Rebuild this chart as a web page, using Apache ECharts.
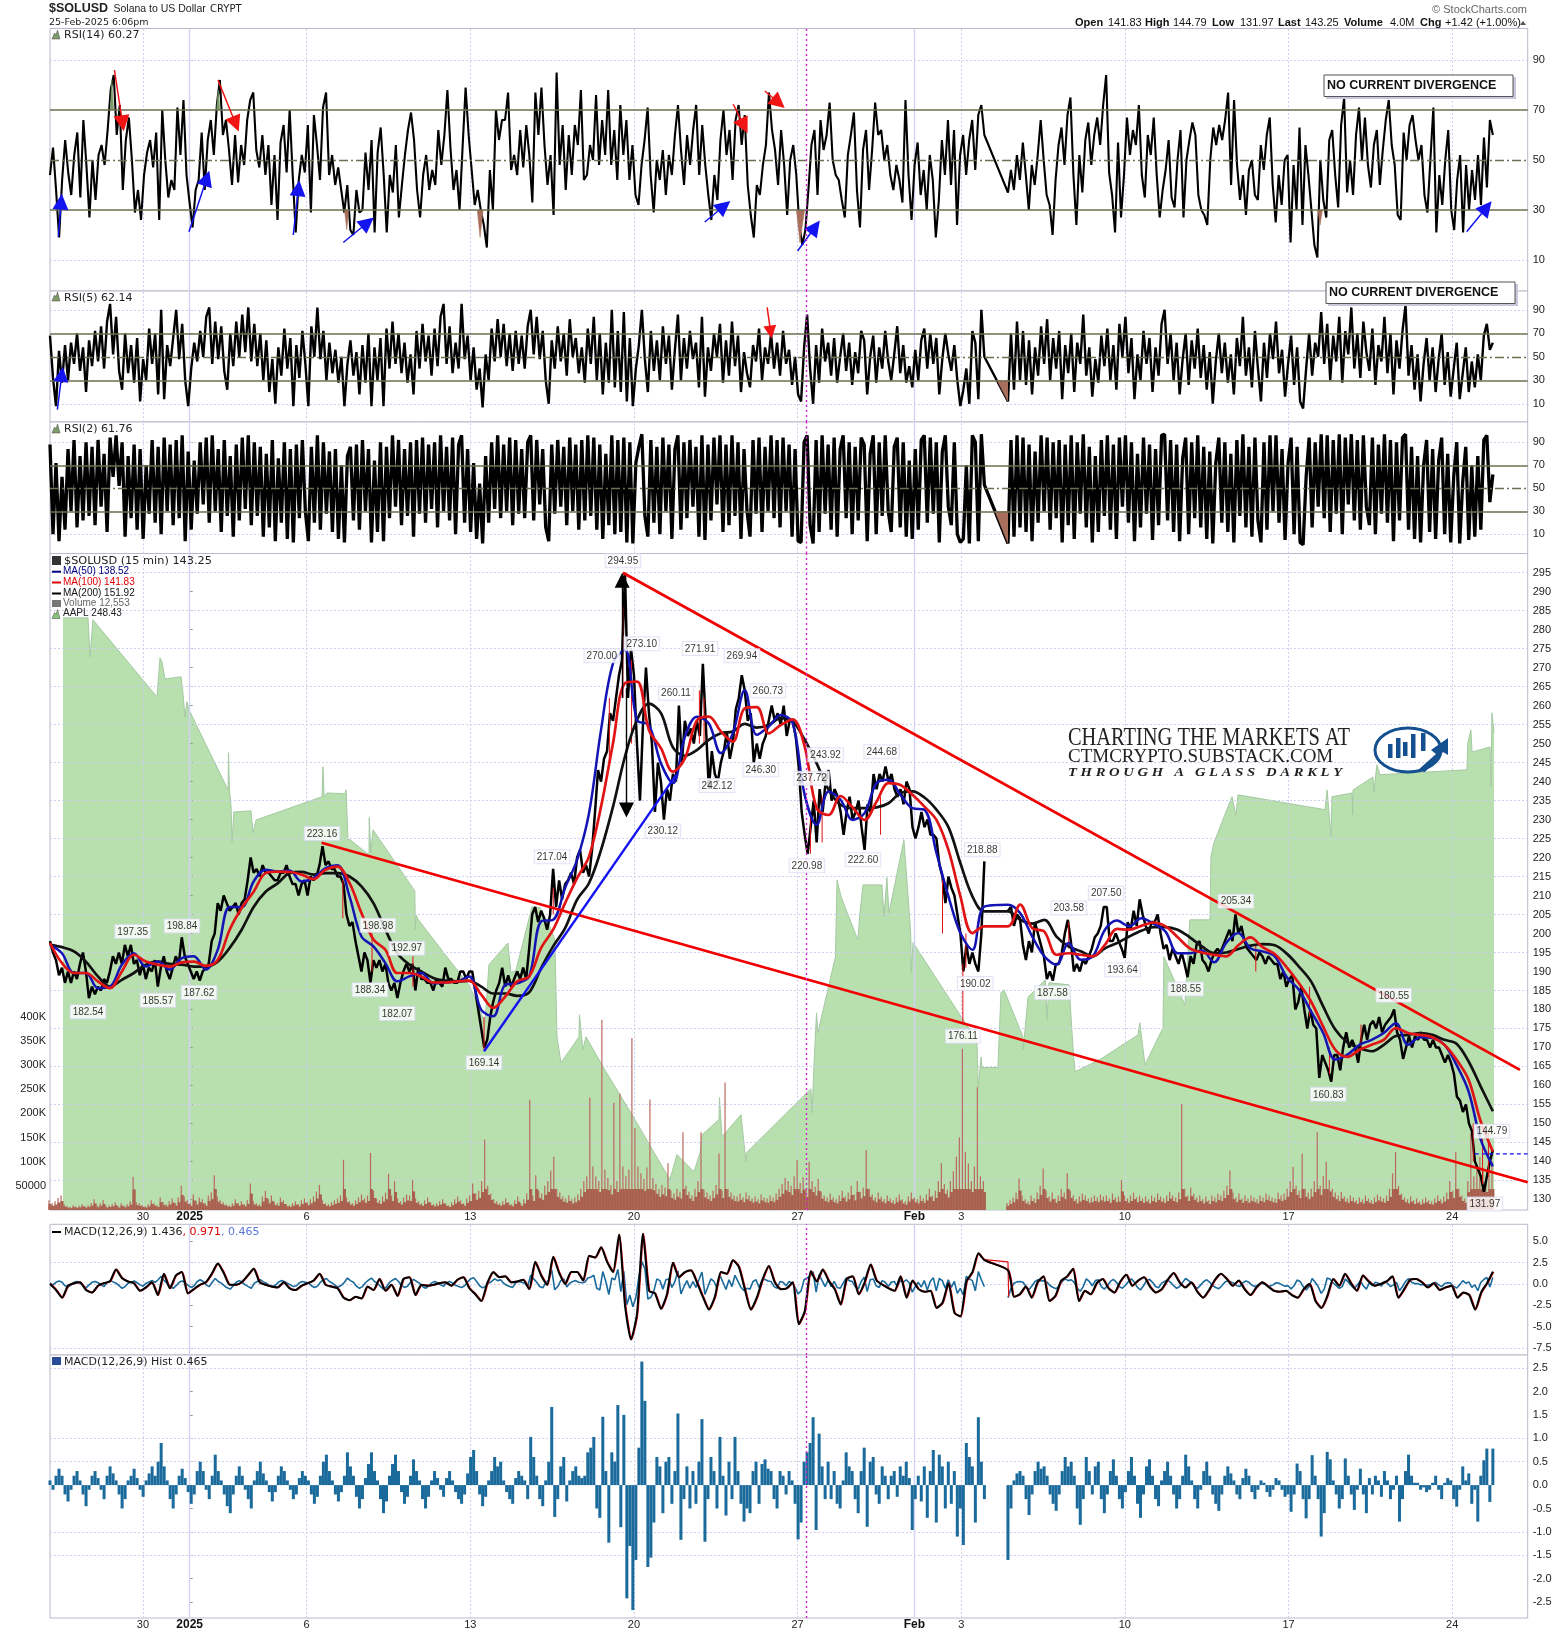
<!DOCTYPE html>
<html><head><meta charset="utf-8"><title>$SOLUSD</title>
<style>html,body{margin:0;padding:0;background:#fff}#c{width:1565px;height:1634px}</style>
<script src="https://cdn.jsdelivr.net/npm/echarts@6/dist/echarts.min.js"></script></head>
<body><div id="c"></div>
<script>
// ---- time axis: days since 1 Jan 2025
const dayTicks=[-2,0,5,12,19,26,31,33,40,47,54];
const dayLabels=['30','{b|2025}','6','13','20','27','{b|Feb}','3','10','17','24'];
const strongDays=[0,31];
const markerDay=26.36;
const rsiTicks=[10,30,50,70,90];
const priceTicks=[130,135,140,145,150,155,160,165,170,175,180,185,190,195,200,205,210,215,220,225,230,235,240,245,250,255,260,265,270,275,280,285,290,295];
const priceGrid=[135,145,155,165,175,185,195,205,215,225,235,245,255,265,275,285,295];
const volTicks=[50,100,150,200,250,300,350,400];
const macdTicks=[-7.5,-5,-2.5,0,2.5,5];
const histTicks=[-2.5,-2,-1.5,-1,-0.5,0,0.5,1,1.5,2,2.5];

// ---- RSI(14)
const rsi14A=[44,55,38,19,42,58,45,36,52,61,35,66,48,27,50,34,52,56,48,62,78,84,60,72,38,58,67,50,29,38,26,44,53,58,47,61,26,70,50,35,42,38,71,52,74,44,33,23,38,42,61,38,58,66,52,72,82,60,66,54,40,60,41,56,48,66,74,77,54,47,60,44,56,32,52,26,57,64,45,70,44,21,42,52,45,64,29,68,56,42,71,77,44,52,40,47,38,29,40,22,20,38,29,30,53,38,58,21,53,63,44,21,44,37,56,27,40,52,62,69,58,38,27,44,52,38,46,40,62,48,60,78,55,38,46,30,55,79,60,46,32,38,30,24,15,46,30,70,58,66,
66,77,46,52,44,62,47,64,52,33,77,60,79,56,40,52,28,85,48,64,38,60,44,64,56,78,42,44,56,50,76,48,66,52,78,48,62,42,72,52,66,42,56,36,32,48,58,71,44,29,50,42,54,36,52,44,60,72,54,40,60,48,62,72,44,64,48,36,26,44,34,58,70,52,62,42,66,72,56,68,40,28,19,40,36,48,56,77,62,54,40,62,48,28,50,56,44,24,16,22,38,56,62,36,66,54,60,73,50,44,42,34,27,52,60,69,38,23,54,62,38,54,73,60,62,50,56,44,38,48,42,33,74,44,26,48,57,36,46,30,52,42,19,34,58,44,66,40,62,24,52,60,44,58,66,46,68,72,60];
const rsi14B=[37,46,38,52,42,57,44,30,48,40,52,66,50,36,32,20,42,56,63,48,68,75,44,24,
52,37,58,65,48,60,67,56,72,84,45,36,21,57,27,44,67,52,62,56,72,44,35,60,52,67,44,27,38,46,58,35,31,50,62,27,50,58,65,60,36,30,28,24,50,63,56,64,58,66,77,40,74,48,34,44,28,46,50,36,34,56,46,60,67,40,25,44,32,50,52,17,48,30,63,24,56,44,30,16,11,50,34,27,58,62,44,31,64,75,37,50,36,60,71,50,67,48,39,56,62,40,54,66,74,56,48,28,26,61,50,64,68,58,50,56,36,29,50,71,21,44,32,50,62,30,22,42,52,21,48,30,46,34,52,32,59,39,66,60];
// ---- RSI(5)
const rsi5A=[68,32,8,55,28,60,30,62,44,70,38,58,20,64,42,72,46,76,40,80,95,52,84,38,22,70,36,60,28,66,12,48,30,74,44,70,18,90,14,60,42,66,90,48,78,30,8,40,62,46,72,50,84,92,44,80,48,76,38,22,70,42,80,50,86,54,92,46,78,42,70,30,64,20,48,10,58,34,74,40,66,8,60,32,72,44,8,76,50,92,48,72,30,62,36,56,28,50,8,44,64,34,54,18,60,28,70,8,58,30,66,8,74,40,80,44,70,36,62,28,52,18,72,40,78,46,68,34,74,42,84,95,44,76,36,62,40,95,48,68,30,58,22,40,7,52,30,74,46,82,50,78,42,70,38,72,44,68,40,76,90,52,84,48,72,30,10,64,40,76,46,70,34,82,50,66,36,58,28,74,44,84,30,70,18,62,28,90,24,72,20,88,12,66,8,40,60,90,48,20,72,38,64,30,76,44,68,22,56,86,30,66,40,72,48,62,24,84,16,58,38,70,50,78,28,64,34,80,42,68,20,54,36,24,60,46,74,30,58,44,70,40,62,34,72,44,56,26,50,18,12,58,86,40,10,60,28,74,46,62,34,66,28,50,70,38,62,26,54,36,72,64,18,50,68,28,58,40,72,46,30,52,76,36,60,28,42,24,56,30,64,74,40,70,44,66,18,48,70,52,38,60,30,8,22,40,10,72,62,14,90,50];
const rsi5B=[12,70,22,80,30,72,26,64,18,58,34,76,44,82,30,66,40,72,14,60,36,70,20,62,44,86,34,58,16,48,28,68,42,74,30,60,22,78,50,84,36,66,14,52,30,72,44,66,20,58,34,78,90,44,70,30,62,18,48,70,26,64,40,74,32,60,22,54,10,46,70,36,62,28,52,18,66,42,84,34,58,24,72,40,12,62,32,70,48,80,36,56,16,44,68,26,58,12,6,40,70,34,62,50,88,44,78,30,68,46,84,28,72,52,92,40,70,32,80,54,38,74,26,60,46,84,36,70,18,64,40,72,94,34,60,22,52,12,44,66,30,58,20,48,70,26,54,16,40,62,14,36,58,20,46,24,52,30,68,78,56,62];
// ---- RSI(2)
const rsi2A=[88,10,72,4,60,14,84,30,92,16,78,22,90,26,86,18,92,34,80,12,94,60,96,52,90,8,78,24,88,14,84,6,70,28,92,20,86,10,94,30,88,18,92,24,96,4,82,14,74,28,90,36,94,20,96,30,84,12,92,26,78,8,88,22,94,32,96,18,90,26,86,8,80,16,92,4,76,20,90,6,84,3,88,24,92,30,4,86,20,96,14,90,28,82,12,84,6,70,3,78,86,22,88,14,92,30,84,3,74,12,90,4,86,24,96,34,92,18,84,26,90,8,92,28,94,20,88,32,90,16,96,30,86,22,94,10,88,96,20,84,12,72,6,54,2,78,20,90,32,96,24,88,30,94,18,92,28,84,24,90,96,22,92,36,84,16,4,88,28,92,34,86,18,94,30,88,14,92,22,96,26,94,14,88,6,80,18,96,10,92,12,94,3,90,2,72,86,97,26,8,92,20,86,10,94,30,88,6,84,96,14,90,24,92,34,86,8,96,5,88,22,94,36,96,12,88,18,96,26,90,6,84,30,8,92,28,94,12,86,30,96,24,92,16,94,30,88,8,84,4,3,90,96,18,2,92,12,96,28,88,14,94,8,84,96,24,90,10,86,22,94,88,4,80,96,10,90,26,96,30,12,86,94,16,90,8,74,6,84,14,92,96,20,94,28,90,3,82,96,34,18,90,10,3,6,70,2,96,90,4,97,53];
const rsi2B=[2,92,8,96,16,94,12,88,4,82,20,96,30,94,14,90,24,92,3,88,18,96,6,90,28,97,16,86,3,78,12,92,26,96,14,88,6,94,34,96,20,90,4,80,16,94,28,88,5,84,18,96,97,22,92,12,88,4,76,94,10,90,24,96,16,86,6,82,2,72,94,20,90,12,80,3,92,26,97,16,86,8,94,22,3,90,14,96,30,96,20,84,5,72,94,10,86,3,1,60,94,16,90,34,97,24,96,12,92,28,97,10,94,36,97,22,92,14,96,34,18,94,10,88,28,97,20,92,4,90,22,94,97,14,86,6,78,3,70,92,12,84,6,74,94,10,80,3,60,90,2,56,86,5,70,8,78,14,92,96,38,62];
// ---- shaded RSI extremes: [day, rsi] pairs
const rsi14Low=[[[6.62,30],[6.72,22],[6.8,30]],[[12.3,30],[12.42,19],[12.55,30]],[[25.95,30],[26.1,17],[26.3,30]],[[48.25,30],[48.35,24],[48.45,30]]];
const rsi14High=[[[-3.4,70],[-3.33,82],[-3.25,70]],[[1.15,70],[1.22,78],[1.3,70]]];
const rsi5Gap=[[34.53,30],[35,12]];
const rsi2Gap=[[34.45,30],[35,2]];

// ---- price path (high/low trace)
const priceA=[198,195,193,189,191,187,190,187,190,188,192,195,190,183,186,184,186,185,188,187,190,194,192,195,192,197,194,197,192,193,189,192,188,191,190,193,186,191,194,190,188,191,194,192,199,194,192,190,188,190,187.6,190,191,192,198,200,208,206,210,208,206,207,208,205,208,209,214,220,216,217,215,218,216,216,215,214,214,216,216,218,215,213,213,210,213,214,210,215,214,215,218,223,218,219,217,217,215,215,213,205,202,203,198,194,190,195,193,187,193,191,193,190,192,187,185,187,183,187,190,192,190,192,185,191,188,188,187,187,185,188,187,186,191,188,188,187,187,190,190,188,190,190,185,180,175,170,172,178,182,185,187,191,186,189,186,188,190,188,191,188,196,205,207,203,206,204,201,205,217,207,214,209,213,
214,216,213,220,222,216,218,215,222,232,243,240,246,248,258,256,262,268,272,295,262,275,268,250,235,255,270,258,250,232,245,240,230,238,235,242,240,260,245,256,252,254,250,256,252,271,255,238,248,242,240,245,248,253,246,250,259,262,268,264,256,258,245,250,246,250,252,256,260,256,258,255,260,252,256,256,252,244,232,226,221,228,235,224,238,232,240,243,235,238,236,232,226,232,236,230,232,235,228,222,234,232,242,238,242,240,244,240,242,238,236,238,234,240,238,228,225,228,
232,228,230,226,226,225,218,215,208,215,212,210,205,200,190,197,192,195,192,190,200,219];
const priceB=[206,207,202,205,204,197,193,198,195,203,200,197,194,188,190,187.6,192,192,195,200,203.6,198,190,192,190,193,192,194,196,199,
200,202,207,207,198,198,200,198,196,193.6,203,201,206,202,209,205,202,200,203,203,205,200,196,197,193,196,194,192,195,192,188.5,194,192,197,198,193,192,190,193,195,196,195,197,199,201,198,205,200,202,198,196,195,194,193,195,194,192,194,193,192,192,188,190,186,188,189,180,182,186,180,175,180,176,175,162,168,166,164,161,168,168,164,170,174,170,172,170,166,172,176,172,176,177,175,178,174,176,177,178,180,174,172,167,170,173,170,173,172,174,172,172,170,172,170,170,168,166,168,166,163,157,156,153,155,150,148,140,138,136,132,136,140,143];
// red candle wicks: day, high, low
const redWicks=[[12.59,178,169.14],[33.07,192,176.11],[33.2,200,191],[18.53,286,262],[18.9,272,250],[17.95,262,244],[27.05,236,224],[26.55,232,221],[22.0,262,250],[29.55,236,226],[9.55,194,186],[7.8,200,190],[6.55,214,204],[15.55,212,205],[21.8,264,250],[32.2,214,200],[50.1,176,170],[48.75,170,163],[55.3,146,134],[47.9,186,178],[37.6,203,196],[45.6,197,190],[54.9,150,140],[55.55,148,136]];

// ---- moving averages, 79 points before the Feb 3 gap, 41 after
const ma50A=[197,194.8,189.6,189.6,185.6,186,191.8,194.8,191.3,192.6,190.5,193.5,194,190.5,195.7,207,207,213.7,216.8,216.3,216.6,213.7,214.6,217.2,218,209.8,199.2,196.6,192.2,187.4,188.7,189.6,186.9,187.1,187.4,188.7,179.9,178.2,186.5,186.9,188.7,203.2,203.6,212,219.4,231.7,253.6,271.1,274.7,256.2,254.9,244.8,239.6,251.8,257.1,255.3,247.5,252.7,264.1,252.3,254.5,257.5,255.4,236.5,228.6,237.4,235.2,229.9,231.7,239.6,240.5,236.5,233,232.6,221.2,209.8,200.1,195.7,207.1];
const ma50B=[207.6,205.4,199.2,194,191.8,197.5,193.1,194,201,203.4,201.9,204,202.6,200.5,194.8,194.8,195.5,192.4,197.5,200.1,196.1,195.3,194,188.5,185.2,179.5,173.8,166.8,168.1,170.7,172,173.8,176.4,170.7,172.7,172.5,170.7,165.4,158.4,145.7,138.7];
const ma100A=[197.5,192.2,189.6,189.6,187.4,185.6,190,194.4,192.6,191.8,191.3,192.4,192.6,191.5,193,201,206.7,211,215.9,216.3,216.2,215.5,214.3,216.8,217.6,213.3,205.4,198.4,195.7,189.6,189.6,188.7,187.1,187.1,187.4,187.6,183.9,180.4,183.4,187.4,188.7,196.2,201,208,214.6,220.3,233.4,250.1,265.9,266.3,253.6,248.8,242.6,246.1,256.1,257.1,253.2,250.5,259.3,259.6,252.7,254.9,256.4,249.2,233,231.2,236.2,233.2,229.9,234.7,239.6,239.1,236.5,233.4,229.9,222,209.8,200.1,201.9];
const ma100B=[201.9,207.6,201.4,200.5,194.4,194.8,194.4,194,197,201.2,201,202,202.9,201.9,199,196.1,195,194.4,194,196.9,199,196.4,194.6,191.1,186.9,182.1,175.5,169.4,167.5,169.4,170.7,172,175.1,173.8,173.3,172.7,170.7,166.8,161.5,150.5,142.6];
const ma200A=[197,196.4,195.3,192.6,188.7,186,187.8,189.6,191.8,192.6,192,191.8,191.3,191.3,192.6,196.2,201,207,211,213.2,215.9,216.2,215.5,215.9,215.9,215,212.4,208,201,194.8,191.8,190,188.3,187.6,187.4,187.5,186,184.2,184.2,183.6,184.5,190.9,196.6,201.4,208.9,213.3,222,233.4,246.6,256.2,260.5,258,249,246.8,248.3,251,252.7,253.2,255.2,254.2,254.9,256.7,255.8,251,244.8,237.8,233.9,233,233,233.2,234.3,237,237.4,235.8,232.6,228,218.5,209.8,205.8];
const ma200B=[205.8,203.6,202.6,203.6,199.2,196.6,195.3,194,196.1,197.5,199.2,200.7,201.7,201.7,201,199,196.6,194.8,195,195.9,196.8,197.2,196.9,194.7,191.3,187.4,180.8,174.7,171.3,169.8,169,170.7,173,173.3,173.8,173.3,172,171,166.3,159.7,153.2];

// ---- AAPL comparison area, read as [day, level on the price scale]
const aaplDays=[-5.42,-4.35,-4.26,-4.14,-1.4,-1.27,-1.18,-1.06,-0.37,-0.29,-0.2,-0.12,-0.03,1.64,1.66,1.7,1.77,1.81,1.89,2.62,2.71,2.84,5.66,5.7,5.75,5.87,6.64,6.69,6.77,6.86,7.67,7.68,7.75,7.84,9.63,9.65,9.68,9.77,11.99,12.63,12.8,13.61,13.74,13.95,14.64,14.98,15.41,15.62,15.71,15.88,16.27,16.65,16.67,16.82,16.95,17.68,18.92,20.54,20.84,21.57,21.83,21.91,22.64,22.66,22.77,23.58,23.79,23.82,26.57,26.62,26.7,26.81,26.87,27.62,27.69,27.86,28.58,28.67,28.8,29.61,29.7,29.82,29.91,30.55,30.83,30.85,30.86,30.94,33.08,33.67,33.73,33.85,33.89,34.57,34.7,34.83,35.64,35.65,35.86,36.6,36.67,36.75,37.61,37.78,37.87,38.93,40.56,40.64,40.86,41.63,41.67,42.57,42.78,43.64,43.68,43.81,44.58,44.75,44.84,48.56,48.65,48.82,48.86,49.72,49.74,49.76,50.61,50.65,50.78,50.91,54.63,54.67,54.8,54.85,55.62,55.66,55.7,55.79];
const aaplLevel=[283.1,283.1,272.8,282.6,262.3,272.6,271.5,267,267.6,263.3,257,261,258.9,237.8,247.6,237.8,233.3,224.1,232,232.3,226.5,229.9,236,243.9,236,237,236.8,237.8,224.7,224.7,220.7,230.5,221.2,227.3,211.2,201,204.9,203.7,186,176.5,191.8,197.5,189.7,190.2,207,206.8,201.8,198.3,172.8,166,169.4,172.8,178.6,169.4,172.8,164.9,152.3,135.2,141.8,137.3,142.3,147,151,156.8,146.5,152.3,140,142.3,159.1,152.8,164.9,179.1,173.9,193.9,214.1,209.7,198.3,205.5,212.8,212.8,204.4,214.7,205.5,224.7,201,197.8,189.7,197.6,177.3,172,159.7,167.5,164.7,164.7,184.4,185.2,172.8,169.4,183.3,187.8,177.3,187,186.5,170.2,163.6,166.8,173.3,176.5,165.4,175.2,193.9,181.2,203.6,203.6,220.2,223.9,236,231.2,236.5,232.6,237.8,225.5,236,237,231.2,237.8,241.2,237.3,244.4,241.8,243.1,250.2,253.6,247.8,249.1,238.6,258.1,252.8];

// ---- volume in thousands
const volA=[20,14,18,25,30,12,8,6,10,7,9,12,8,10,14,22,9,14,20,8,10,12,16,8,14,9,12,18,69,16,14,10,8,12,20,14,10,26,16,12,18,24,15,26,50,28,20,14,32,18,26,22,14,30,36,72,28,20,16,12,10,14,22,14,18,12,20,55,18,14,12,28,40,22,30,16,14,26,20,12,10,14,18,12,20,24,16,22,28,38,52,20,14,12,16,20,24,30,104,26,18,14,20,26,32,24,30,118,40,24,20,28,36,75,30,60,24,18,26,32,30,62,24,18,14,20,26,16,12,14,18,22,14,10,16,22,28,20,14,24,30,55,34,40,60,146,50,34,22,18,14,18,24,16,12,20,28,14,22,34,228,30,72,40,34,50,60,82,110,44,36,28,24,30,22,26,32,44,60,70,233,90,70,60,394,84,66,52,222,60,241,90,70,84,356,170,90,76,64,88,229,66,54,44,52,46,97,40,34,44,38,161,50,38,30,44,60,161,42,36,30,40,52,117,40,264,44,36,30,28,34,26,36,30,24,28,22,32,26,24,30,26,34,44,54,66,60,50,70,103,56,68,44,100,60,48,64,38,30,26,34,26,22,30,40,28,36,50,32,60,38,46,124,44,32,26,36,28,22,30,24,20,26,32,22,18,28,36,26,22,30,24,32,44,30,40,60,97,54,42,60,80,110,150,334,120,96,60,90,254,70,60];
const volB=[14,20,26,36,65,30,22,18,30,24,36,50,86,40,28,36,24,30,44,36,76,40,30,22,28,34,30,24,26,30,26,32,28,30,24,34,26,28,62,30,24,30,36,26,30,24,28,22,30,26,34,28,24,30,38,30,26,36,220,44,30,46,34,26,30,22,28,20,30,26,34,30,40,50,82,36,26,34,24,30,24,30,26,22,30,26,34,30,26,24,36,30,34,44,60,89,50,40,117,44,36,44,60,161,50,70,100,62,44,36,30,38,28,24,30,26,20,26,22,30,24,20,26,32,28,24,30,44,76,120,50,34,26,22,28,20,24,18,22,26,20,18,24,30,22,28,36,60,40,120,44,30,24,60,158,70,90,110,80,60,90,100];

// ---- MACD line, signal gap segment, histogram
const macdA=[0,-.7,-1.6,-.2,.1,.2,-.7,-1,-.2,.1,.3,1.7,.7,.3,.1,-.8,-.4,.2,-1.3,1.2,-.5,1,1.4,-1.1,-.6,-.1,.2,1.2,2.4,1.3,-.1,-.1,.2,1,1.8,.2,-.1,-.3,-.4,.2,-.5,-.7,-.2,.1,.4,1.2,-.1,-.3,-.5,-1.6,-1.9,-1.5,-1.7,-.3,-.7,.6,-.8,-.1,-1.4,.6,.8,-1.3,-.1,-.2,-.1,.1,.2,-.2,.5,.8,-.5,-1.2,-2,.1,1.4,.8,
.9,.2,.3,.5,-.6,2.6,1,-.1,3.2,1.3,0,1.4,1.4,.4,3.3,3.1,4.3,2.6,1.4,5.8,-2.5,-6.5,-3.5,5.9,-.8,-1.1,-2.9,-1.2,2.5,.8,1.4,1.6,.2,-1.5,-3,-1.5,1.4,1.2,2.8,2,-.6,-3,-1.6,.6,2.1,.2,-.6,-.5,.2,-4.7,-3.2,1.5,.3,1.7,.4,-.6,-2.4,.6,.9,-1.2,.2,2.3,.4,-.1,-.5,-.8,.9,-1.6,.4,-.6,-.9,-.8,-2.8,-2.2,.1,-3.4,-3.8,.3,1.4,3.6,2.8];
const macdB=[1.6,-1.5,-1.2,-.3,-1.6,.2,.9,-2,-1.4,.4,.9,1.8,-2,-.8,-1.2,.1,.6,-.5,-1,.3,1.1,-.2,.4,.8,-.3,-1,-.6,.5,1.3,.2,-.4,.2,-.9,-1.6,-.7,.5,1.2,.6,-.2,.4,-.6,-1.3,-.4,.2,-.3,-.8,-.9,-.8,-1.3,-1.6,-.6,0,-2,-2.8,-1.4,.6,-.2,1.2,.1,-.8,1,.3,-.2,0,.3,.9,-1.6,-.6,.5,.6,.2,-.4,.1,-.7,-.4,-.2,-1.6,-1,-1.3,-3,-1,.1,1.44];
const signalGap=[[34,2.85],[35,2.6],[35.03,-1.5]];
const histA=[.1,-.1,.2,.35,.2,-.2,-.35,-.1,.2,.3,.1,-.2,-.45,-.1,.2,.3,.15,-.1,-.3,.2,.4,.25,.1,-.2,-.5,-.3,.1,.2,.35,.15,-.1,-.25,.1,.25,.4,.2,.5,.9,.4,.1,-.3,-.5,-.2,.2,.35,.15,-.15,-.4,-.2,.3,.5,.3,-.1,-.3,.2,.65,.3,.1,-.2,-.45,-.6,-.2,.2,.4,.2,-.1,-.3,-.5,.1,.3,.5,.25,.1,-.15,-.35,-.15,.2,.4,.3,.1,-.1,-.3,-.2,.15,.3,.2,.1,-.2,-.4,-.25,.2,.5,.65,.3,.1,-.2,-.35,-.15,.2,.7,.4,.2,-.25,-.5,-.3,.15,.45,.7,.3,.1,-.3,-.6,-.35,.2,.45,.65,.3,-.15,-.4,-.25,.2,.55,.3,.1,-.3,-.5,-.25,.1,.3,.15,-.1,-.25,.15,.3,.1,-.15,-.3,-.4,-.2,.25,.6,.75,.3,-.2,-.45,-.25,.1,.3,.6,.4,.5,.1,-.15,-.3,-.4,.15,.3,.2,.1,-.3,1.03,.6,.2,-.3,-.45,.1,.5,1.67,-.68,-.3,.4,.6,-.35,.1,.3,.4,.2,.15,.2,.7,.8,1.03,-.5,-.7,1.46,.3,-1.23,.7,.5,1.71,-.9,1.5,-2.42,-1.3,-2.67,-1.6,.8,2.64,1.8,-1.75,-1.55,-.8,.6,.4,-.6,.5,.6,-.4,.3,1.53,-1.17,-.3,.4,-.5,.3,-.4,.5,1.41,-1.21,-.3,.6,.3,-.5,1.03,.2,-.65,.5,-.3,1.03,.3,-.4,-.78,-.5,-.6,.3,.5,-.4,.45,.55,.35,.3,-.3,-.5,.3,.2,-.2,.3,.1,-.4,-1.16,-.8,.5,.7,.9,1.45,-.96,1.1,.4,-.3,.5,-.3,.3,-.4,-.5,.1,.7,.4,.3,-.3,-.6,.3,.8,-.89,.5,.6,-.2,-.4,.4,.2,-.3,.2,.3,-.25,.4,.2,.5,.15,-.96,-.3,.2,-.35,.4,-.7,.3,.75,-.8,.65,.4,-.5,.5,-.4,.3,-1.1,-.5,-1.28,.9,.6,.4,-.8,1.45,.5,-.3];
const histB=[-1.6,-.5,.1,.25,.3,.2,-.3,-.64,-.2,.3,.5,.35,.4,.2,-.2,-.4,-.55,-.2,.3,.6,.4,.5,.2,-.5,-.85,-.3,.6,.3,-.2,.4,.5,-.3,-.6,-.2,.3,.55,.2,-.3,-.5,-.15,.3,.6,.2,-.4,-.7,-.2,.4,.55,.2,-.3,-.45,.1,.3,.5,.2,-.2,-.5,-.3,.2,.65,.4,.1,-.3,-.5,-.1,.3,.5,.2,-.2,-.4,-.55,-.2,.2,.4,.25,.1,-.2,-.3,.15,.35,.2,-.15,-.3,-.1,.1,.05,-.15,-.25,-.1,.15,.1,-.1,-.25,-.2,-.57,-.2,.46,.3,-.3,-.71,-.3,.64,.2,-.3,-1.1,-.6,.71,.55,.1,-.2,-.5,-.3,.57,.2,-.2,-.53,-.1,.35,-.2,-.6,.15,-.2,.2,.1,-.25,.3,.1,-.3,-.1,.2,-.78,-.3,.3,.65,.2,.05,.05,-.1,-.05,-.15,-.1,.05,.2,-.1,-.3,.05,.15,.1,-.3,-.46,-.1,.4,.1,.25,-.4,-.1,-.78,.2,.53,.78,-.36,.78];

// ---- annotations [day, price]
const labelsAbove=[[-2.44,197.35],[-0.33,198.84],[5.66,223.16],[8.05,198.98],[9.29,192.97],[15.5,217.04],[18.53,294.95],[17.63,270.00],[19.34,273.10],[20.8,260.11],[21.83,271.91],[23.62,269.94],[24.73,260.73],[27.2,243.92],[26.6,237.72],[29.6,244.68],[33.9,218.88],[37.6,203.58],[39.2,207.50],[44.75,205.34],[51.5,180.55],[55.7,144.79]];
const labelsBelow=[[-4.35,182.54],[-1.36,185.57],[0.4,187.62],[7.71,188.34],[8.87,182.07],[12.59,169.14],[20.24,230.12],[22.55,242.12],[24.43,246.30],[26.4,220.98],[28.8,222.60],[33.6,190.02],[33.07,176.11],[36.9,187.58],[39.9,193.64],[42.6,188.55],[48.7,160.83],[55.4,131.97]];
const redTrendUpper=[[18.53,295],[56.9,164.1]];
const redTrendLower=[[5.64,223.9],[57.23,134.5]];
const blueTrend=[[12.59,169],[20.8,241.7]];
const lastPriceLine=[[54.97,142],[57.23,142]];
const rsi14Blue=[[[-5.62,19.3],[-5.5,33.3]],[[-0.03,21.3],[0.73,42.7]],[[4.43,20],[4.65,38.7]],[[6.57,17],[7.61,25]],[[22.03,25.2],[22.86,31.6]],[[26,13.6],[26.75,23.2]],[[54.62,21.3],[55.47,31]]];
const rsi14Red=[[[-3.22,86],[-2.87,64.7]],[[1.21,82],[1.97,64.4]],[[23.25,72.3],[23.71,63.6]],[[24.6,77.6],[25.19,72.9]]];
const rsi5Blue=[[[-5.66,5],[-5.47,35]]];
const rsi5Red=[[[24.7,92],[24.85,71]]];
const blackArrows=[[[18.5,262],[18.5,293]],[[18.68,264.6],[18.68,232.5]]];

// ---- layout
const XMIN=-5.975,XMAX=57.23,PRE0=-5.975,PRE1=33.99,POST0=35,POST1=55.74;
const spread=(a,b)=>{const r=[];a.forEach((v,i)=>r.push([PRE0+i*(PRE1-PRE0)/(a.length-1),v]));b.forEach((v,i)=>r.push([POST0+i*(POST1-POST0)/(b.length-1),v]));return r;};
const broken=(a,b)=>{const r=spread(a,b);r.splice(a.length,0,[34.5,null]);return r;};
const FONT='"Liberation Sans",Arial,sans-serif',WIDE='"DejaVu Sans",sans-serif',SERIF='"Liberation Serif",serif';
const grids=[],xAxes=[],yAxes=[],series=[];
const tickLookup=v=>dayLabels[dayTicks.indexOf(v)];
function panel(top,bottom,ymin,ymax,ticks,hlines,fmt,labelled){
  const g=grids.length;
  grids.push({left:50,width:1477.7,top,height:bottom-top,show:true,borderColor:'#b9b9c9',borderWidth:1,backgroundColor:'#fff'});
  xAxes.push({type:'value',gridIndex:g,min:XMIN,max:XMAX,splitLine:{show:false},axisLine:{show:false},axisTick:{show:false},
    axisLabel:labelled?{show:true,customValues:dayTicks,margin:1,fontSize:11,fontFamily:FONT,color:'#222',formatter:tickLookup,hideOverlap:false,rich:{b:{fontWeight:'bold',fontSize:12,fontFamily:FONT,color:'#111'}}}:{show:false}});
  const yi=yAxes.length;
  yAxes.push({type:'value',gridIndex:g,position:'right',min:ymin,max:ymax,splitLine:{show:false},axisLine:{show:false},
    axisTick:{show:true,length:3,customValues:ticks,lineStyle:{color:'#999'}},
    axisLabel:{show:true,customValues:ticks,margin:5,fontSize:11,fontFamily:FONT,color:'#222',formatter:fmt||(v=>String(v)),hideOverlap:false}});
  const guide=[];
  hlines.forEach(v=>guide.push({yAxis:v||1e-6,lineStyle:{color:'#cfcff0',type:[2,2],width:1}}));
  dayTicks.forEach(d=>guide.push({xAxis:d||1e-6,lineStyle:strongDays.includes(d)?{color:'#d2d2f4',type:'solid',width:1.4}:{color:'#cfcff0',type:[2,2],width:1}}));
  series.push({type:'line',xAxisIndex:g,yAxisIndex:yi,data:[],z:1,silent:true,markLine:{silent:true,symbol:'none',z:1,animation:false,label:{show:false},data:guide}});
  series.push({type:'line',xAxisIndex:g,yAxisIndex:yi,data:[],z:9,silent:true,markLine:{silent:true,symbol:'none',z:9,animation:false,label:{show:false},
    data:[{xAxis:markerDay,lineStyle:{color:'#d81fd8',type:[2,3],width:1.4}}]}});
  return {g,yi};
}
function line(p,data,color,width,z,extra){series.push(Object.assign({type:'line',xAxisIndex:p.g,yAxisIndex:p.yi,data,symbol:'none',silent:true,z,lineStyle:{color,width},itemStyle:{color}},extra||{}));}
function refLines(p){series.push({type:'line',xAxisIndex:p.g,yAxisIndex:p.yi,data:[],z:7,silent:true,markLine:{silent:true,symbol:'none',z:7,animation:false,label:{show:false},data:[
  {yAxis:70,lineStyle:{color:'#6e6e50',type:'solid',width:1.5}},{yAxis:30,lineStyle:{color:'#6e6e50',type:'solid',width:1.5}},{yAxis:50,lineStyle:{color:'#6e6e50',type:[9,3,2,3],width:1.3}}]}});}
function arrows(p,segs,color,size,width){series.push({type:'line',xAxisIndex:p.g,yAxisIndex:p.yi,data:[],z:8,silent:true,markLine:{silent:true,z:8,animation:false,symbol:['none','triangle'],symbolSize:size,label:{show:false},
  lineStyle:{color,width,type:'solid'},data:segs.map(s=>[{coord:s[0]},{coord:s[1]}])}});}
function fill(p,pts,color,origin){line(p,pts,color,0.5,5,{areaStyle:{color,origin,opacity:1}});}

const pR14=panel(28.5,291,-2.4,102.6,rsiTicks,[90,10]);
line(pR14,spread(rsi14A,rsi14B),'#000',2.1,4,{lineStyle:{color:'#000',width:2.1,join:'bevel'}});
rsi14Low.forEach(b=>fill(pR14,b,'#a8705c',30));
rsi14High.forEach(b=>fill(pR14,b,'#7d9c6a',70));
refLines(pR14);
arrows(pR14,rsi14Blue,'#1414f0',16,1.5);
arrows(pR14,rsi14Red,'#f01414',16,1.5);

const pR5=panel(291,422,-5.5,106,rsiTicks,[90,10]);
line(pR5,spread(rsi5A,rsi5B),'#000',2.4,4,{lineStyle:{color:'#000',width:2.4,join:'bevel'}});
fill(pR5,rsi5Gap,'#a8705c',30);
refLines(pR5);
arrows(pR5,rsi5Blue,'#1414f0',15,1.5);
arrows(pR5,rsi5Red,'#f01414',13,1.5);

const pR2=panel(422,553.5,-6.7,107.6,rsiTicks,[90,10]);
line(pR2,spread(rsi2A,rsi2B),'#000',3.3,4,{lineStyle:{color:'#000',width:3.3,join:'bevel'}});
fill(pR2,rsi2Gap,'#a8705c',30);
refLines(pR2);

const pP=panel(553.5,1210,127.2,300.05,priceTicks,priceGrid);
const volAxis=yAxes.length;
yAxes.push({type:'value',gridIndex:pP.g,position:'left',min:0,max:1359,splitLine:{show:false},axisLine:{show:false},axisTick:{show:false},
  axisLabel:{show:true,customValues:volTicks,margin:4,fontSize:11,fontFamily:FONT,color:'#222',formatter:v=>v===50?'50000':v+'K',hideOverlap:false}});
series.push({type:'line',xAxisIndex:pP.g,yAxisIndex:pP.yi,data:aaplDays.map((d,i)=>[d,aaplLevel[i]]),symbol:'none',silent:true,z:0,
  lineStyle:{color:'#a5c9a3',width:1},areaStyle:{color:'#b8dfae',opacity:1,origin:'start'}});
const volAll=spread(volA,volB);
series.push({type:'bar',xAxisIndex:pP.g,yAxisIndex:volAxis,data:volAll,barWidth:1.2,silent:true,z:2,itemStyle:{color:'#bb6a60'}});
series.push({type:'bar',xAxisIndex:pP.g,yAxisIndex:volAxis,data:volAll.map(p=>[p[0],Math.min(p[1],70)*0.62]),barWidth:3.1,barGap:'-100%',silent:true,z:2,itemStyle:{color:'#a9604f'}});
line(pP,broken(priceA,priceB),'#000',2.5,3,{lineStyle:{color:'#000',width:2.5,join:'bevel'},connectNulls:false});
line(pP,redWicks.flatMap(w=>[[w[0],w[1]],[w[0],w[2]],[w[0],null]]),'#e01010',1,4,{connectNulls:false});
const maSpread=(a,b,pre1)=>{const r=[];a.forEach((v,i)=>r.push([PRE0+i*(pre1-PRE0)/(a.length-1),v]));b.forEach((v,i)=>r.push([POST0+i*(POST1-POST0)/(b.length-1),v]));return r;};
line(pP,maSpread(ma200A,ma200B,33.99),'#111',2.7,5,{smooth:.35});
line(pP,maSpread(ma50A,ma50B,33.99),'#1414b4',2.5,5.5,{smooth:.35});
line(pP,maSpread(ma100A,ma100B,33.99),'#e01414',2.7,6,{smooth:.35});
line(pP,redTrendUpper,'#f00000',2.8,7);
line(pP,redTrendLower,'#f00000',2.8,7);
line(pP,blueTrend,'#1414f0',2.4,7);
line(pP,lastPriceLine,'#1414f0',1.2,7,{lineStyle:{color:'#1414f0',width:1.2,type:[4,3]}});
arrows(pP,blackArrows,'#000',15,1.4);
const labelBase={show:true,formatter:p=>p.value[1].toFixed(2),backgroundColor:'#fff',borderColor:'#dcdcf4',borderWidth:1,padding:[2,2,1,2],fontSize:10,fontFamily:FONT,color:'#000',distance:5};
[[labelsAbove,'top'],[labelsBelow,'bottom']].forEach(([d,pos])=>series.push({type:'scatter',xAxisIndex:pP.g,yAxisIndex:pP.yi,data:d,symbolSize:1,silent:true,z:10,itemStyle:{color:'rgba(0,0,0,0)'},label:Object.assign({},labelBase,{position:pos})}));

const pM=panel(1224.3,1355,-8.32,7,macdTicks,[2.5,0,-7.5],v=>Number.isInteger(v)?v.toFixed(1):String(v));
line(pM,broken(histA,histB),'#1a6a9c',1.6,3,{connectNulls:false});
line(pM,spread(macdA,macdB).map(p=>[p[0]+0.025,p[1]]),'#e01010',1.8,4,{smooth:.2});
line(pM,signalGap,'#e01010',1.2,4);
line(pM,spread(macdA,macdB),'#000',2,5,{smooth:.2});

const pH=panel(1355,1618,-2.84,2.78,histTicks,[2.5,1,0.5,-1,-1.5],v=>Number.isInteger(v)?v.toFixed(1):String(v),true);
series.push({type:'bar',xAxisIndex:pH.g,yAxisIndex:pH.yi,data:spread(histA,histB),barWidth:3,silent:true,z:3,itemStyle:{color:'#1a6a9c'}});
xAxes[pP.g].axisLabel={show:true,customValues:dayTicks,margin:1,fontSize:11,fontFamily:FONT,color:'#222',formatter:tickLookup,hideOverlap:false,rich:{b:{fontWeight:'bold',fontSize:12,fontFamily:FONT,color:'#111'}}};

// ---- texts and overlays
const T=(text,x,y,font,fill,extra,props)=>Object.assign({type:'text',x,y,z:50,silent:true,style:Object.assign({text,font,fill,textVerticalAlign:'middle'},extra||{})},props||{});
const icon=(x,y,c)=>({type:'polygon',z:50,silent:true,shape:{points:[[x,y+5],[x+2.5,y-1],[x+4,y+1],[x+5.5,y-4],[x+8,y+5]]},style:{fill:c,stroke:'#444',lineWidth:.5}});
const dash=(x,y,c)=>({type:'rect',z:50,silent:true,shape:{x,y:y-1,width:9,height:2},style:{fill:c}});
const hdr=[['Open',1075,1],['141.83',1108,0],['High',1145,1],['144.79',1173,0],['Low',1212,1],['131.97',1240,0],['Last',1278,1],['143.25',1305,0],['Volume',1344,1],['4.0M',1390,0],['Chg',1420,1],['+1.42 (+1.00%)',1445,0]];
const graphic=[
 T('$SOLUSD',49,9,'bold 12.5px '+FONT,'#222'),
 T('Solana to US Dollar',113.5,9,'10.5px '+FONT,'#222'),
 T('CRYPT',210,9.5,'10px '+WIDE,'#222'),
 T('25-Feb-2025 6:06pm',49,22.5,'9.5px '+WIDE,'#222'),
 T('© StockCharts.com',1527,9.5,'11px '+FONT,'#666',{textAlign:'right'}),
 {type:'polygon',z:50,silent:true,shape:{points:[[1520,25],[1523,21],[1526,25]]},style:{fill:'#555'}},
 ...hdr.map(h=>T(h[0],h[1],22.5,(h[2]?'bold ':'')+'11px '+FONT,'#111')),
 icon(52,34,'#7d9c6a'),T('RSI(14) 60.27',64,35,'11px '+WIDE,'#222'),
 icon(52,296,'#7d9c6a'),T('RSI(5) 62.14',64,298,'11px '+WIDE,'#222'),
 icon(52,428,'#7d9c6a'),T('RSI(2) 61.76',64,429.5,'11px '+WIDE,'#222'),
 T('$SOLUSD (15 min) 143.25',64,561,'11.3px '+WIDE,'#222'),
 {type:'rect',z:50,silent:true,shape:{x:52,y:556,width:9,height:9},style:{fill:'#333'}},
 dash(52,571.7,'#000080'),T('MA(50) 138.52',63,571.7,'10px '+FONT,'#000080'),
 dash(52,582.5,'#e00000'),T('MA(100) 141.83',63,582.5,'10px '+FONT,'#e00000'),
 dash(52,593.5,'#000'),T('MA(200) 151.92',63,593.5,'10px '+FONT,'#111'),
 {type:'rect',z:50,silent:true,shape:{x:52,y:600,width:9,height:7},style:{fill:'#777'}},T('Volume 12,553',63,603.5,'10px '+FONT,'#666'),
 icon(52,613.5,'#8cc47e'),T('AAPL 248.43',63,613.5,'10px '+FONT,'#222'),
 dash(52,1232,'#000'),
 {type:'text',x:64,y:1232,z:50,silent:true,style:{text:'{k|MACD(12,26,9) 1.436}{r|, 0.971}{b|, 0.465}',textVerticalAlign:'middle',rich:{k:{fontSize:11,fontFamily:WIDE,fill:'#222'},r:{fontSize:11,fontFamily:WIDE,fill:'#e00000'},b:{fontSize:11,fontFamily:WIDE,fill:'#5a78d8'}}}},
 {type:'rect',z:50,silent:true,shape:{x:52,y:1357,width:9,height:8},style:{fill:'#2a4a9a'}},
 T('MACD(12,26,9) Hist 0.465',64,1362.5,'11px '+WIDE,'#222'),
 {type:'rect',z:49,silent:true,shape:{x:1326,y:77,width:190,height:22},style:{fill:'#c8c8dc'}},
 {type:'rect',z:50,silent:true,shape:{x:1324,y:75,width:189,height:21.5},style:{fill:'#fff',stroke:'#555',lineWidth:1}},
 T('NO CURRENT DIVERGENCE',1327,85.5,'bold 12.5px '+FONT,'#111'),
 {type:'rect',z:49,silent:true,shape:{x:1328,y:284,width:190,height:22},style:{fill:'#c8c8dc'}},
 {type:'rect',z:50,silent:true,shape:{x:1326,y:282,width:189,height:21.5},style:{fill:'#fff',stroke:'#555',lineWidth:1}},
 T('NO CURRENT DIVERGENCE',1329,292.5,'bold 12.5px '+FONT,'#111'),
 T('CHARTING THE MARKETS AT',1068,738,'25px '+SERIF,'#222',null,{scaleX:0.817}),
 T('CTMCRYPTO.SUBSTACK.COM',1068,757.5,'19px '+SERIF,'#222'),
 T('T H R O U G H   A   G L A S S   D A R K L Y',1068,773,'italic bold 12px '+SERIF,'#222',null,{scaleX:1.22}),
 {type:'ellipse',z:50,silent:true,shape:{cx:1408,cy:750,rx:33,ry:22},style:{fill:'rgba(255,255,255,0)',stroke:'#14508f',lineWidth:3}},
 ...[[1388,744,14],[1396,738,20],[1403,742,14],[1411,734,24],[1421,733,18]].map(c=>({type:'rect',z:51,silent:true,shape:{x:c[0],y:c[1],width:4.5,height:c[2]},style:{fill:'#14508f'}})),
 {type:'polygon',z:51,silent:true,shape:{points:[[1417,771],[1436,754],[1431,750],[1448,738],[1448,755],[1443,752],[1425,772]]},style:{fill:'#14508f'}}
];

const chart=echarts.init(document.getElementById('c'),null,{renderer:'canvas'});
chart.setOption({animation:false,backgroundColor:'#fff',tooltip:{show:false},grid:grids,xAxis:xAxes,yAxis:yAxes,series,graphic});
</script></body></html>
